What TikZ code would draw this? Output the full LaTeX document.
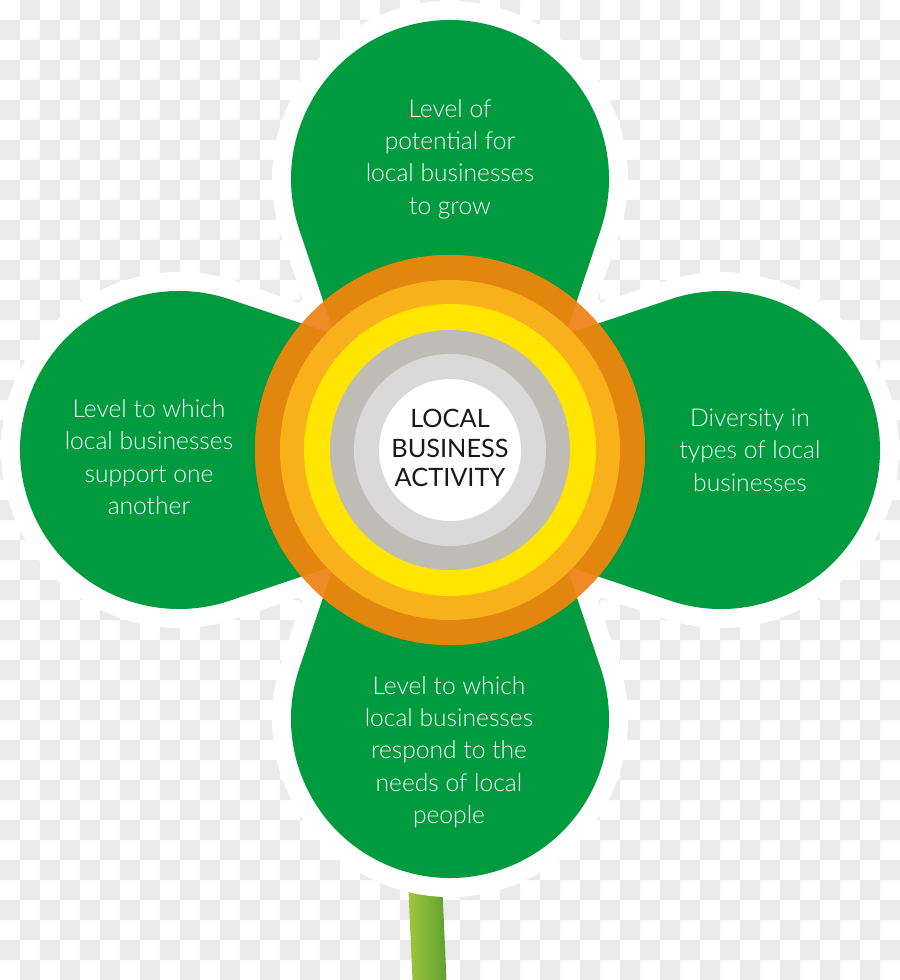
\documentclass[tikz,border=0pt]{standalone}
\usepackage{fontspec}
\setmainfont{Lato}[UprightFont=* Light]
\newfontfamily\corefont{Lato}
\usepackage{tikz}

\definecolor{leafgreen}{RGB}{0,155,62}
\definecolor{stemlight}{RGB}{160,198,58}
\definecolor{stemdark}{RGB}{96,160,48}
\definecolor{ringdark}{RGB}{227,134,14}
\definecolor{ringpatch}{RGB}{239,138,38}
\definecolor{ringlight}{RGB}{249,177,27}
\definecolor{ringyellow}{RGB}{255,229,0}
\definecolor{ringgray}{RGB}{190,188,180}
\definecolor{ringpale}{RGB}{217,217,217}
\definecolor{checkgray}{RGB}{235,235,235}

% one petal, centre at origin, pointing along +x
\def\leafshape{(71.5:159) arc[start angle=71.5,end angle=288.5,radius=159] -- (271,-76.8) -- (271,76.8) -- cycle}

\begin{document}
\begin{tikzpicture}[x=0.025cm,y=0.025cm,
  outline/.style={fill=white,draw=white,line width=0.95cm,line join=round},
  leaf/.style={fill=leafgreen},
  leaftext/.style={text=white,align=center,inner sep=0pt,font=\fontsize{17.5}{23}\selectfont},
  coretext/.style={text=black!90,align=center,inner sep=0pt,font=\corefont\fontsize{18}{21}\selectfont}]
\useasboundingbox (-450,-530) rectangle (450,450);
\clip (-450,-530) rectangle (450,450);
\fill[white] (-450,-530) rectangle (450,450);
\fill[checkgray] \foreach \i in {0,2,...,44} {\foreach \j in {1,3,...,49} {
   ({20*\i-450},{450-20*\j}) rectangle ++(20,-20)
   ({20*\i-430},{470-20*\j}) rectangle ++(20,-20)}};
% stem
\shade[left color=stemlight,right color=stemdark] (-42,-430) -- (-8,-430) -- (-3.5,-530) -- (-37.5,-530) -- cycle;
% petals
\foreach \ang/\dx/\dy in {-90/0/271,0/-271/0,180/271/0,90/0/-269} {
   \path[outline,shift={(\dx,\dy)},rotate=\ang] \leafshape;
}
\foreach \ang/\dx/\dy in {-90/0/271,0/-271/0,180/271/0,90/0/-269} {
   \path[leaf,shift={(\dx,\dy)},rotate=\ang] \leafshape;
}
% rings
\fill[ringpatch] (0,0) circle[radius=195];
\begin{scope}
\clip (0,0) circle[radius=195];
\foreach \ang/\dx/\dy in {-90/0/271,0/-271/0,180/271/0,90/0/-269} {
   \fill[ringdark,shift={(\dx,\dy)},rotate=\ang] \leafshape;
}
\end{scope}
\foreach \r/\c in {170/ringlight,146/ringyellow,120/ringgray,96/ringpale,71/white} {
   \fill[\c] (0,0) circle[radius=\r];
}
\node[leaftext] (grow) at (0,291) {Level of\\potential for\\local businesses\\to grow};
\node[leaftext] (support) at (-301,-7) {Level to which\\local businesses\\support one\\another};
\node[leaftext] (diversity) at (300,0) {Diversity in\\types of local\\businesses};
\node[leaftext] (respond) at (-1,-302) {Level to which\\local businesses\\respond to the\\needs of local\\people};
\node[coretext] (core) at (0,2) {LOCAL\\BUSINESS\\ACTIVITY};
\end{tikzpicture}
\end{document}
